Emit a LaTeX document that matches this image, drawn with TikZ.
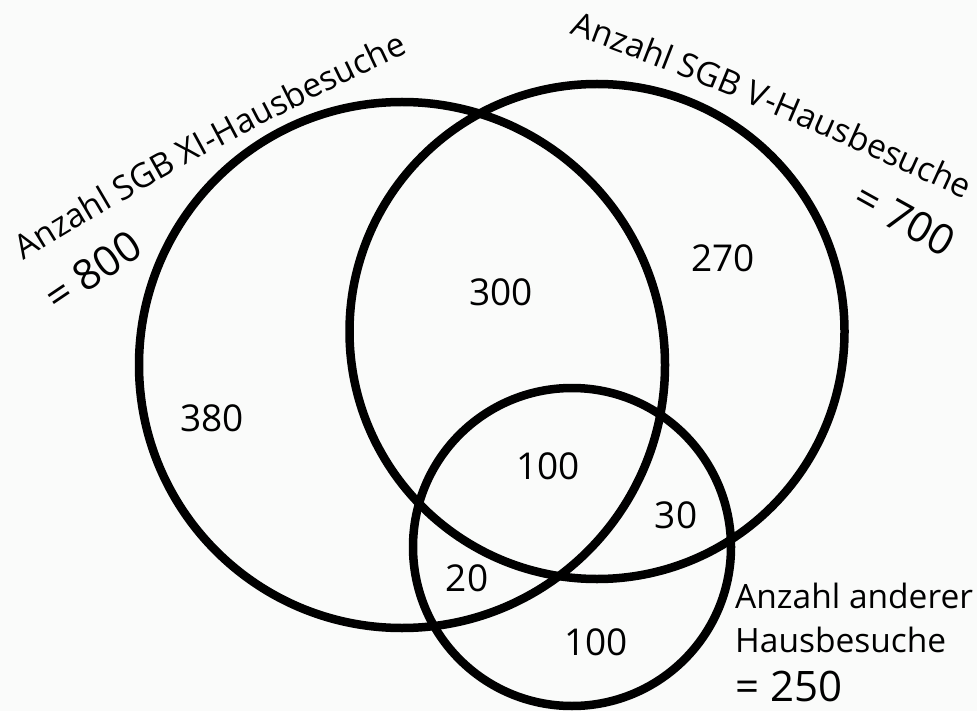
\documentclass[tikz,border=0pt]{standalone}
\usepackage{fontspec}
\setmainfont{Open Sans}
\usetikzlibrary{decorations.text}
\definecolor{bg}{RGB}{250,251,250}
\begin{document}
\begin{tikzpicture}[x=1pt,y=-1pt,
  ring/.style={draw=black,line width=8.5pt,circle,inner sep=0pt,fill=none},
  num/.style={inner sep=0pt,font=\fontsize{37}{44}\selectfont},
  lbl/.style={inner sep=0pt,anchor=base west,font=\fontsize{33.5}{44}\selectfont},
  big/.style={inner sep=0pt,font=\fontsize{42}{48}\selectfont},
  arclabel/.style={decorate,decoration={text along path,text align=center,
    text format delimiters={|}{|},text={|\fontsize{33.5}{40}\selectfont|#1}}}]
\fill[bg] (0,0) rectangle (977,711);
\useasboundingbox (0,0) rectangle (977,711);
% circles
\node[ring,minimum size=526pt] (xi) at (402,365) {};
\node[ring,minimum size=495pt] (v) at (597,331.5) {};
\node[ring,minimum size=318pt] (other) at (572,547) {};
% curved labels
\coordinate (xis) at (22,262);
\coordinate (xie) at (410,52);
\path[arclabel={Anzahl SGB XI-Hausbesuche}] (xis) .. controls (146,184) and (278,113) .. (xie);
\coordinate (vs) at (567,33);
\coordinate (ve) at (967,200);
\path[arclabel={Anzahl SGB V-Hausbesuche}] (vs) .. controls (705,82) and (836,140) .. (ve);
\node[big,rotate=34] (n800) at (93,271) {= 800};
\node[big,rotate=-29] (n700) at (905,219) {= 700};
% region numbers
\node[num] (a300) at (501,292) {300};
\node[num] (a270) at (723,258) {270};
\node[num] (a380) at (212,418) {380};
\node[num] (a20) at (467,578) {20};
\node[num] (a100a) at (548,466) {100};
\node[num] (a30) at (676,515) {30};
\node[num] (a100b) at (596,642) {100};
% third set label
\node[lbl] (o1) at (735,608) {Anzahl anderer};
\node[lbl] (o2) at (735,652) {Hausbesuche};
\node[big,anchor=base west] (o3) at (735,701) {= 250};
\end{tikzpicture}
\end{document}
